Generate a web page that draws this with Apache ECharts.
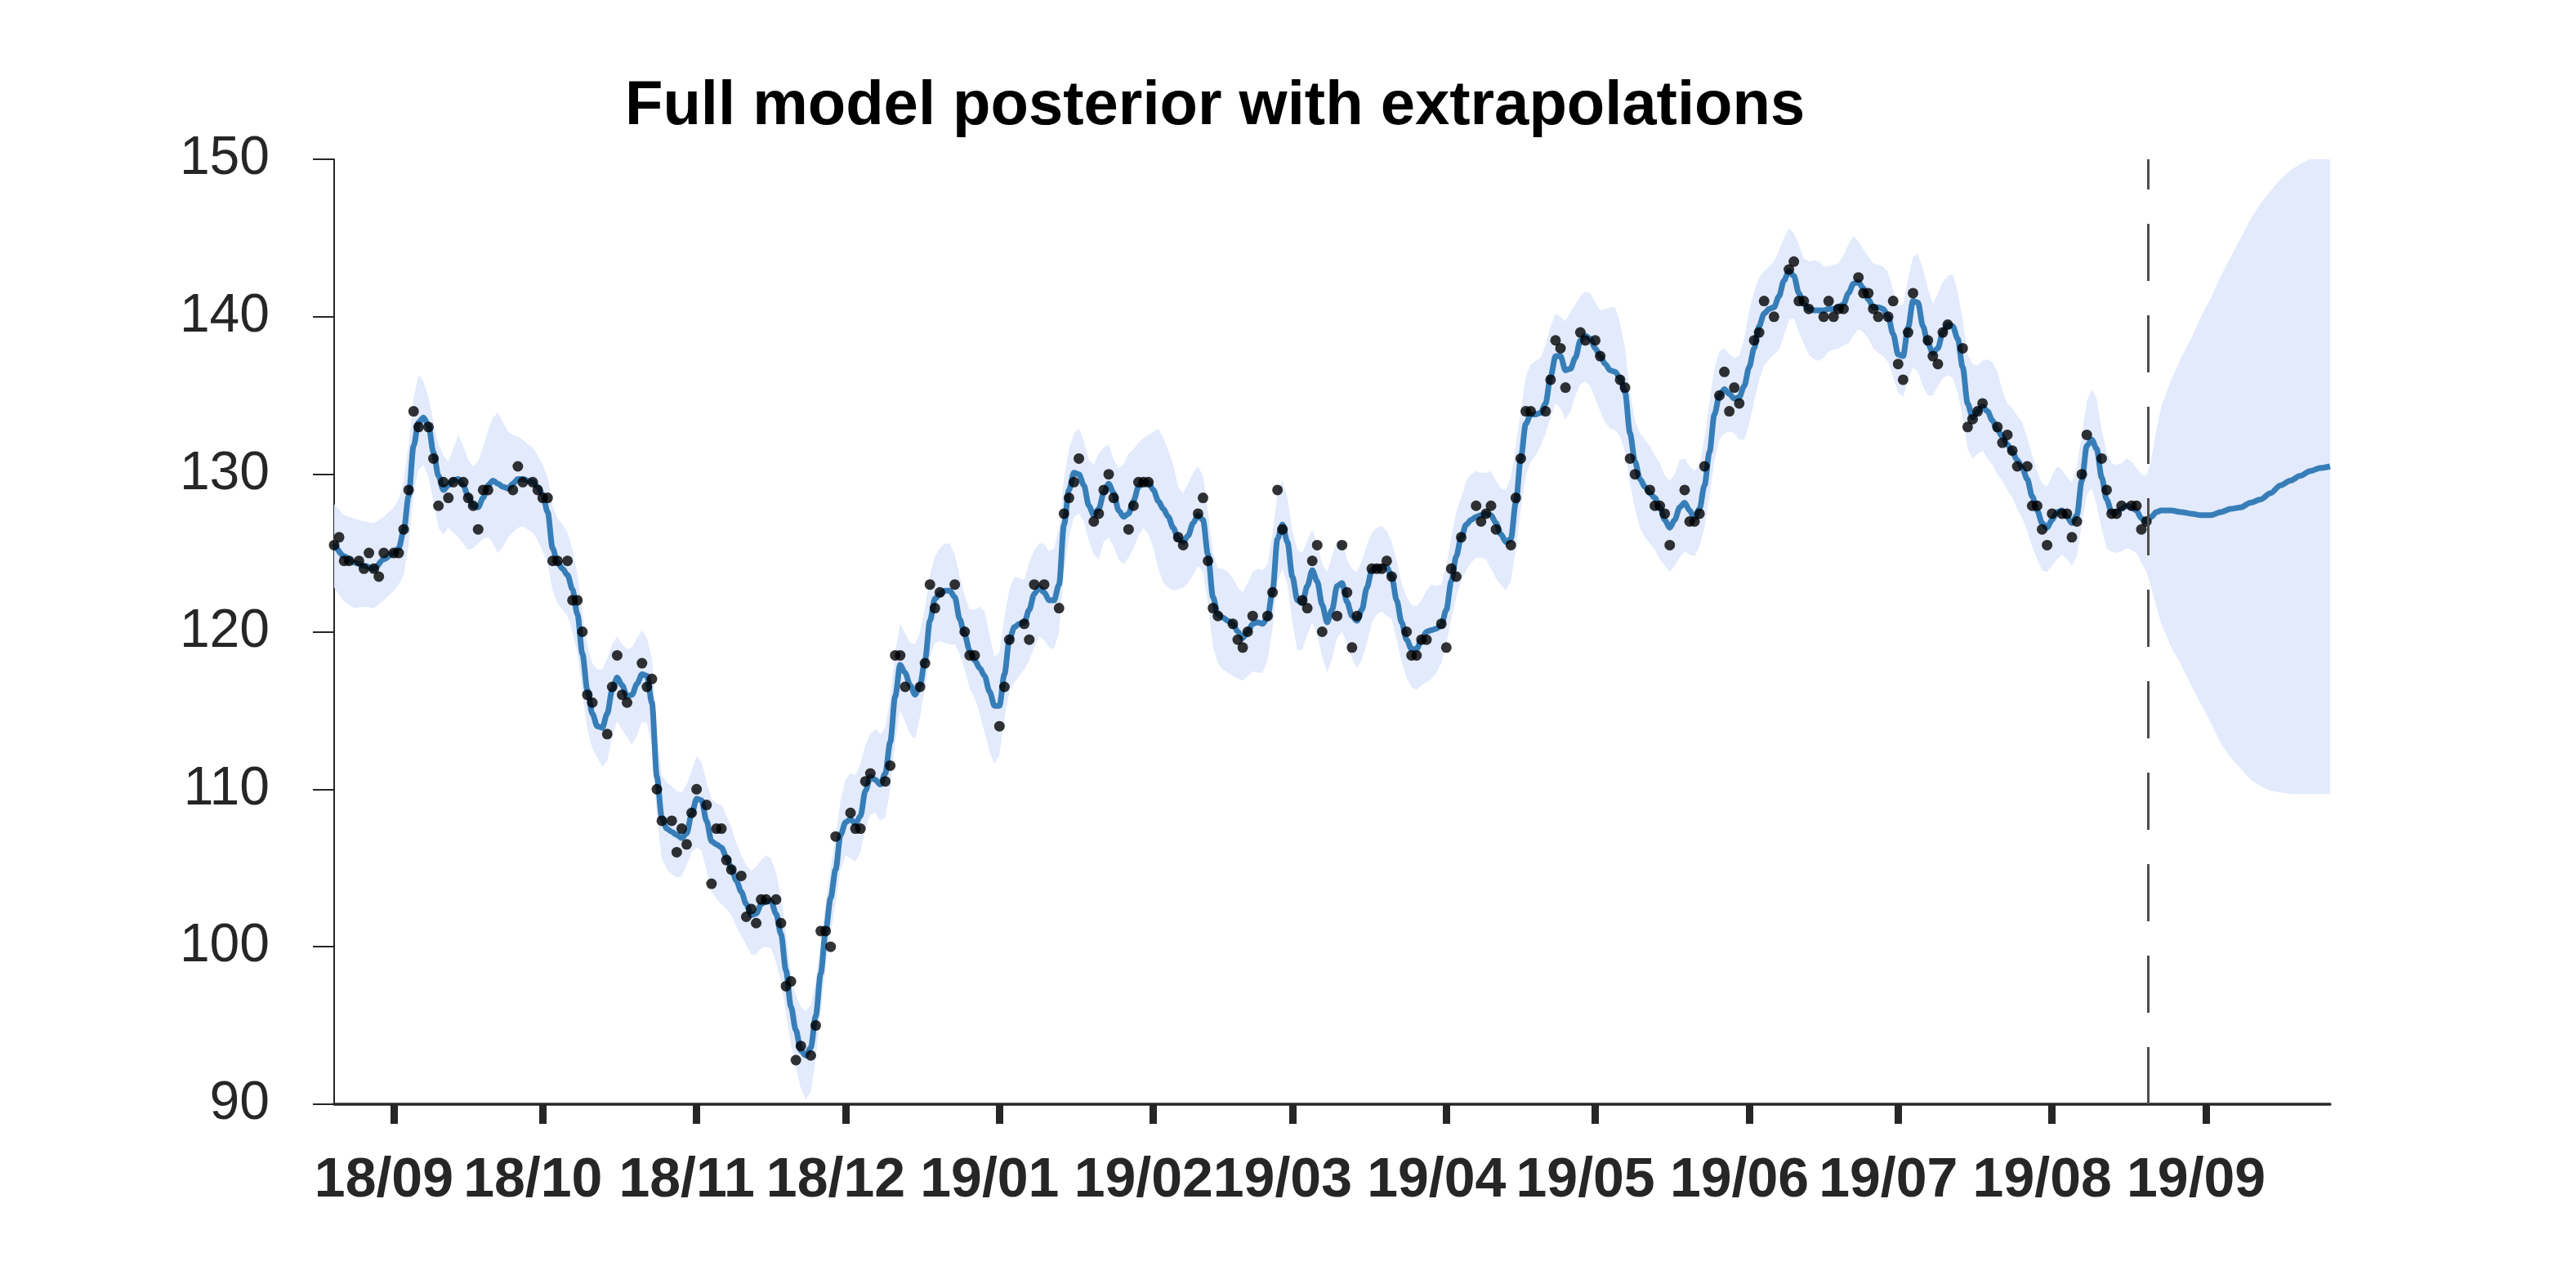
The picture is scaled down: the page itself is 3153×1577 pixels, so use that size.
<!DOCTYPE html>
<html>
<head>
<meta charset="utf-8">
<title>Full model posterior with extrapolations</title>
<script src="https://cdn.jsdelivr.net/npm/echarts@6.0.0/dist/echarts.min.js"></script>
<style>
  html, body { margin: 0; padding: 0; background: #fff; }
  #chart { width: 3153px; height: 1577px; }
</style>
</head>
<body>
<div id="chart"></div>
<script>
// x values are days counted from 2018-08-20
const monthTickDay = [12, 42, 73, 103, 134, 165, 193, 224, 254, 285, 315, 346, 377];
const monthTickLabel = ['18/09', '18/10', '18/11', '18/12', '19/01', '19/02', '19/03',
  '19/04', '19/05', '19/06', '19/07', '19/08', '19/09'];
const dataEndDay = 365.3;

// observations (black dots)
const obsDay = [
  0, 1, 2, 3, 5, 6, 7, 8, 9, 10, 12, 13, 14, 15, 16, 17, 19, 20, 21, 22,
  23, 24, 26, 27, 28, 29, 30, 31, 36, 37, 38, 40, 41, 42, 43, 44, 45, 47, 48, 49,
  50, 51, 52, 55, 56, 57,
  58, 59, 62, 63, 64, 65, 66, 68, 69, 70, 71, 72, 73, 75, 76, 77, 78, 79, 80, 82,
  83, 84, 85, 86, 87, 89, 90, 91, 92, 93, 94, 96, 97, 98, 99, 100, 101, 104, 105, 106,
  107, 108, 111, 112, 113,
  114, 115, 118, 119, 120, 121, 122, 125, 127, 128, 129, 134, 135, 136, 139, 140, 141, 143, 146, 147,
  148, 149, 150, 153, 154, 155, 156, 157, 160, 161, 162, 163, 164, 170,
  171, 174, 175, 176, 177, 178, 181, 182, 183, 184, 185, 188, 189, 190, 191, 195, 196, 197, 198, 199,
  202, 203, 204, 205, 206, 209, 210, 211, 212, 213, 216, 217, 218, 219, 220, 223, 224, 225,
  226, 227, 230, 231, 232, 233, 234, 237, 238, 239, 240, 241, 244, 245, 246, 247, 248, 251, 252, 254,
  255, 259, 260, 261, 262, 265, 266, 267, 268, 269, 272, 273, 274, 275, 276, 279, 280, 281,
  282, 283, 286, 287, 288, 290, 293, 294, 295, 296, 297, 300, 301, 302, 303, 304, 307, 308, 309, 310,
  311, 313, 314, 315, 316, 317, 318, 321, 322, 323, 324, 325, 328, 329, 330, 331, 332, 335, 336, 337,
  338, 339, 341, 342, 343, 344, 345, 346, 348, 349, 350, 351, 352, 353, 356, 357, 358, 359, 360, 362,
  363, 364, 365
];
const obsVal = [
  125.5, 126.0, 124.5, 124.5, 124.5, 124.0, 125.0, 124.0, 123.5, 125.0, 125.0, 125.0, 126.5, 129.0, 134.0, 133.0, 133.0, 131.0, 128.0, 129.5,
  128.5, 129.5, 129.5, 128.5, 128.0, 126.5, 129.0, 129.0, 129.0, 130.5, 129.5, 129.5, 129.0, 128.5, 128.5, 124.5, 124.5, 124.5, 122.0, 122.0,
  120.0, 116.0, 115.5, 113.5, 116.5, 118.5,
  116.0, 115.5, 118.0, 116.5, 117.0, 110.0, 108.0, 108.0, 106.0, 107.5, 106.5, 108.5, 110.0, 109.0, 104.0, 107.5, 107.5, 105.5, 104.9, 104.5,
  101.9, 102.4, 101.5, 103.0, 103.0, 103.0, 101.5, 97.5, 97.8, 92.8, 93.7, 93.1, 95.0, 101.0, 101.0, 100.0, 107.0, 108.5, 107.5, 107.5,
  110.5, 111.0, 110.5, 111.5, 118.5,
  118.5, 116.5, 116.5, 118.0, 123.0, 121.5, 122.5, 123.0, 120.0, 118.5, 118.5, 114.0, 116.5, 119.5, 120.5, 119.5, 123.0, 123.0, 121.5, 127.5,
  128.5, 129.5, 131.0, 127.0, 127.5, 129.0, 130.0, 128.5, 126.5, 128.0, 129.5, 129.5, 129.5, 126.0,
  125.5, 127.5, 128.5, 124.5, 121.5, 121.0, 120.5, 119.5, 119.0, 120.0, 121.0, 121.0, 122.5, 129.0, 126.5, 122.0, 121.5, 124.5, 125.5, 120.0,
  121.0, 125.5, 122.5, 119.0, 121.0, 124.0, 124.0, 124.0, 124.5, 123.5, 120.0, 118.5, 118.5, 119.5, 119.5, 120.5, 119.0, 124.0,
  123.5, 126.0, 128.0, 127.0, 127.5, 128.0, 126.5, 125.5, 128.5, 131.0, 134.0, 134.0, 134.0, 136.0, 138.5, 138.0, 135.5, 139.0, 138.5, 138.5,
  137.5, 136.0, 135.5, 131.0, 130.0, 129.0, 128.0, 128.0, 127.5, 125.5, 129.0, 127.0, 127.0, 127.5, 130.5, 135.0, 136.5, 134.0,
  135.5, 134.5, 138.5, 139.0, 141.0, 140.0, 143.0, 143.5, 141.0, 141.0, 140.5, 140.0, 141.0, 140.0, 140.5, 140.5, 142.5, 141.5, 141.5, 140.5,
  140.0, 140.0, 141.0, 137.0, 136.0, 139.0, 141.5, 138.5, 137.5, 137.0, 139.0, 139.5, 138.0, 133.0, 133.5, 134.0, 134.5, 133.0, 132.0, 132.5,
  131.5, 130.5, 130.5, 128.0, 128.0, 126.5, 125.5, 127.5, 127.5, 127.5, 126.0, 127.0, 130.0, 132.5, 131.0, 129.0, 127.5, 127.5, 128.0, 128.0,
  128.0, 126.5, 127.0
];

// posterior mean and band
const curveDay = [
  0, 2, 4, 6, 8, 10, 12, 13, 14, 15,
  16, 17, 18, 19, 20, 21, 22, 23, 24, 25,
  26, 27, 28, 29, 30, 31, 32, 33, 34, 35,
  36, 37, 38, 39, 40, 41, 42, 43, 44, 45,
  46, 47, 48, 49, 50, 51, 52, 53, 54, 55,
  56, 57, 58, 59, 60, 61, 62, 63, 64, 65,
  66, 67, 68, 69, 70, 71, 72, 73, 74, 75,
  76, 77, 78, 79, 80, 81, 82, 83, 84, 85,
  86, 87, 88, 89, 90, 91, 92, 93, 94, 95,
  96, 97, 98, 99, 100, 101, 102, 103, 104, 105,
  106, 107, 108, 109, 110, 111, 112, 113, 114, 115,
  116, 117, 118, 119, 120, 121, 122, 123, 124, 125,
  126, 127, 128, 129, 130, 131, 132, 133, 134, 135,
  136, 137, 138, 139, 140, 141, 142, 143, 144, 145,
  146, 147, 148, 149, 150, 151, 152, 153, 154, 155,
  156, 157, 158, 159, 160, 161, 162, 163, 164, 165,
  166, 167, 168, 169, 170, 171, 172, 173, 174, 175,
  176, 177, 178, 179, 180, 181, 182, 183, 184, 185,
  186, 187, 188, 189, 190, 191, 192, 193, 194, 195,
  196, 197, 198, 199, 200, 201, 202, 203, 204, 205,
  206, 207, 208, 209, 210, 211, 212, 213, 214, 215,
  216, 217, 218, 219, 220, 221, 222, 223, 224, 225,
  226, 227, 228, 229, 230, 231, 232, 233, 234, 235,
  236, 237, 238, 239, 240, 241, 242, 243, 244, 245,
  246, 247, 248, 249, 250, 251, 252, 253, 254, 255,
  256, 257, 258, 259, 260, 261, 262, 263, 264, 265,
  266, 267, 268, 269, 270, 271, 272, 273, 274, 275,
  276, 277, 278, 279, 280, 281, 282, 283, 284, 285,
  286, 287, 288, 289, 290, 291, 292, 293, 294, 295,
  296, 297, 298, 299, 300, 301, 302, 303, 304, 305,
  306, 307, 308, 309, 310, 311, 312, 313, 314, 315,
  316, 317, 318, 319, 320, 321, 322, 323, 324, 325,
  326, 327, 328, 329, 330, 331, 332, 333, 334, 335,
  336, 337, 338, 339, 340, 341, 342, 343, 344, 345,
  346, 347, 348, 349, 350, 351, 352, 353, 354, 355,
  356, 357, 358, 359, 360, 361, 362, 363, 364, 365,
  366, 367, 368, 370, 372, 374, 376, 378, 380, 382,
  384, 386, 388, 390, 392, 394, 396, 398, 400, 402
];
const meanVal = [
  125.6, 124.8, 124.4, 124.2, 124.0, 124.6, 125.0, 125.3, 126.4, 128.6,
  131.8, 133.3, 133.6, 133.1, 131.4, 129.9, 129.0, 129.3, 129.6, 129.7,
  129.3, 128.6, 128.0, 127.9, 128.5, 129.3, 129.6, 129.4, 129.2, 129.1,
  129.4, 129.7, 129.7, 129.6, 129.5, 129.2, 128.7, 127.6, 125.3, 124.4,
  124.0, 123.6, 122.7, 121.1, 118.6, 116.3, 114.8, 114.0, 113.9, 114.8,
  116.3, 117.1, 116.6, 115.9, 116.0, 116.7, 117.3, 117.2, 115.5, 110.8,
  108.2, 107.5, 107.3, 107.1, 106.9, 107.2, 108.4, 109.4, 109.3, 108.0,
  106.7, 106.5, 106.3, 105.7, 105.0, 104.2, 103.5, 102.7, 102.0, 102.1,
  102.7, 102.9, 102.9, 102.1, 100.8, 98.5, 96.2, 94.7, 93.4, 93.1,
  93.6, 95.6, 98.3, 101.0, 103.1, 104.9, 107.1, 107.9, 108.1, 107.8,
  108.3, 109.9, 110.8, 110.6, 110.3, 111.0, 113.0, 115.9, 117.9, 117.4,
  116.6, 116.0, 116.6, 118.2, 120.7, 122.1, 122.4, 122.6, 122.6, 122.2,
  120.8, 119.8, 118.8, 118.2, 117.7, 117.2, 116.2, 115.3, 115.3, 117.3,
  119.5, 120.3, 120.5, 120.6, 121.4, 122.4, 122.8, 122.5, 122.0, 122.0,
  123.0, 126.8, 129.0, 130.1, 130.0, 129.3, 128.0, 127.4, 127.8, 128.8,
  129.4, 128.8, 127.7, 127.3, 127.5, 128.3, 129.2, 129.5, 129.5, 129.0,
  128.3, 127.8, 127.3, 126.6, 125.9, 125.7, 126.1, 126.9, 127.4, 127.1,
  124.9, 122.2, 121.1, 120.9, 120.7, 120.5, 120.0, 119.6, 120.0, 120.5,
  120.6, 120.5, 120.9, 122.6, 125.9, 126.8, 125.7, 123.5, 122.0, 121.8,
  122.9, 123.9, 123.2, 121.7, 120.6, 121.4, 122.9, 123.1, 121.9, 121.0,
  120.7, 121.4, 122.8, 123.9, 124.1, 124.1, 124.1, 123.5, 122.0, 120.6,
  119.5, 118.9, 118.9, 119.5, 120.0, 120.1, 120.2, 120.4, 121.4, 123.2,
  124.8, 126.0, 126.8, 127.1, 127.3, 127.4, 127.5, 127.4, 126.9, 126.2,
  125.7, 125.9, 128.2, 131.0, 133.2, 133.8, 133.8, 133.9, 134.5, 136.2,
  137.5, 137.5, 136.6, 136.7, 137.4, 138.5, 138.8, 138.6, 138.0, 137.5,
  137.0, 136.6, 136.5, 136.1, 135.2, 132.6, 130.8, 129.7, 129.2, 128.8,
  128.5, 127.9, 127.1, 126.6, 127.1, 127.9, 128.2, 127.7, 127.2, 127.8,
  129.3, 131.4, 133.8, 135.0, 135.4, 135.1, 134.8, 134.9, 135.6, 136.8,
  138.0, 139.4, 140.2, 140.5, 140.6, 141.3, 142.3, 142.9, 142.6, 141.5,
  140.8, 140.5, 140.4, 140.4, 140.4, 140.5, 140.5, 140.6, 140.8, 141.5,
  142.1, 142.2, 141.8, 141.1, 140.6, 140.6, 140.5, 140.0, 138.9, 137.6,
  137.5, 139.3, 141.0, 140.9, 139.4, 138.3, 137.7, 138.0, 139.0, 139.5,
  139.4, 138.6, 136.8, 134.5, 133.6, 134.0, 134.3, 134.0, 133.4, 132.8,
  132.4, 131.9, 131.4, 130.9, 130.4, 129.7, 128.6, 127.7, 126.9, 126.6,
  127.1, 127.6, 127.7, 127.3, 126.9, 127.4, 129.6, 131.8, 132.2, 131.6,
  129.8, 128.4, 127.6, 127.6, 127.8, 128.0, 127.9, 127.7, 127.2, 127.0,
  127.3, 127.6, 127.7, 127.7, 127.6, 127.5, 127.4, 127.4, 127.6, 127.8,
  127.9, 128.2, 128.4, 128.8, 129.3, 129.6, 129.9, 130.2, 130.4, 130.5
];
const bandHigh = [
  128.1, 127.4, 127.2, 127.0, 126.9, 127.3, 127.9, 128.4, 129.6, 131.9,
  134.8, 136.3, 135.9, 134.9, 133.3, 131.9, 131.2, 130.8, 131.6, 132.5,
  131.8, 130.9, 130.5, 130.8, 131.7, 132.8, 133.6, 133.9, 133.3, 132.7,
  132.5, 132.4, 132.2, 131.9, 131.7, 131.2, 130.6, 129.8, 128.0, 127.2,
  126.8, 126.3, 125.2, 123.6, 121.2, 119.2, 118.0, 117.6, 117.6, 118.3,
  119.2, 119.7, 119.2, 118.9, 119.0, 119.6, 120.1, 119.6, 118.3, 113.6,
  110.9, 110.4, 110.2, 109.9, 109.8, 110.3, 111.2, 112.1, 111.7, 110.5,
  109.4, 109.1, 109.0, 108.3, 107.6, 106.6, 105.8, 105.2, 104.8, 105.1,
  105.5, 105.8, 105.6, 104.7, 103.2, 100.8, 98.2, 96.9, 96.2, 95.9,
  96.3, 97.8, 100.2, 102.8, 105.0, 106.9, 109.3, 110.6, 111.0, 110.9,
  111.6, 112.8, 113.5, 113.8, 113.5, 113.9, 115.8, 118.7, 120.5, 119.9,
  119.3, 119.2, 120.0, 121.5, 123.6, 124.8, 125.3, 125.6, 125.6, 124.9,
  123.5, 122.3, 121.4, 121.4, 121.6, 121.3, 119.8, 118.4, 118.7, 120.9,
  122.7, 123.5, 123.4, 123.3, 124.4, 125.2, 125.6, 125.6, 125.1, 125.3,
  126.6, 129.7, 131.6, 132.6, 132.9, 132.1, 130.9, 130.6, 131.3, 131.7,
  131.9, 130.9, 130.4, 130.6, 131.3, 131.6, 132.0, 132.3, 132.5, 132.7,
  132.9, 132.3, 131.5, 130.6, 129.2, 128.8, 129.4, 130.1, 130.5, 129.9,
  127.6, 125.0, 124.0, 124.0, 123.8, 123.4, 122.8, 122.5, 123.1, 123.8,
  124.0, 123.9, 124.3, 126.2, 128.8, 129.6, 128.5, 126.4, 125.2, 125.0,
  125.8, 126.5, 125.6, 124.3, 123.8, 124.8, 125.8, 125.8, 124.6, 124.0,
  123.8, 124.5, 125.5, 126.3, 126.6, 126.7, 126.4, 125.7, 124.5, 123.1,
  122.2, 121.7, 121.6, 122.0, 122.6, 123.0, 122.9, 123.0, 124.2, 126.0,
  127.6, 128.5, 129.6, 130.0, 130.2, 130.1, 130.1, 130.2, 129.6, 129.1,
  129.0, 129.8, 131.8, 134.0, 136.2, 137.0, 137.2, 137.4, 138.2, 139.4,
  140.2, 140.0, 139.7, 140.3, 140.8, 141.3, 141.6, 141.5, 140.9, 140.4,
  140.5, 140.6, 140.6, 139.6, 138.0, 135.2, 133.4, 132.6, 132.2, 131.8,
  131.2, 130.7, 129.9, 129.6, 130.0, 130.9, 131.0, 130.5, 130.2, 130.6,
  132.3, 134.6, 136.7, 137.8, 138.0, 137.6, 137.4, 137.5, 138.6, 140.4,
  141.6, 142.5, 142.9, 143.2, 143.5, 144.2, 145.0, 145.6, 145.3, 144.6,
  143.7, 143.5, 143.6, 143.5, 143.2, 143.2, 143.3, 143.4, 143.9, 144.6,
  145.1, 144.8, 144.3, 143.8, 143.4, 143.3, 143.2, 142.8, 141.7, 140.7,
  140.8, 142.4, 143.8, 144.0, 143.0, 141.8, 140.8, 141.5, 142.2, 142.6,
  142.7, 141.6, 139.8, 137.6, 137.0, 136.9, 137.2, 137.3, 137.1, 136.5,
  135.3, 134.5, 134.2, 133.7, 133.3, 132.3, 131.2, 130.2, 129.4, 129.2,
  129.9, 130.5, 130.3, 129.8, 129.5, 130.4, 132.6, 134.6, 135.4, 134.8,
  132.8, 131.4, 130.7, 130.6, 130.7, 131.0, 130.8, 130.4, 130.0, 129.9,
  131.0, 132.8, 134.3, 136.0, 137.4, 138.6, 140.0, 141.2, 142.6, 143.8,
  145.0, 146.2, 147.2, 148.0, 148.7, 149.3, 149.7, 150.0, 150.0, 150.0
];
const bandLow = [
  122.8, 121.9, 121.5, 121.6, 121.5, 122.0, 122.6, 123.0, 123.6, 125.5,
  128.8, 130.3, 130.6, 129.8, 128.3, 126.6, 126.2, 126.6, 126.3, 126.0,
  125.6, 125.2, 125.3, 125.6, 125.9, 126.0, 125.6, 125.0, 125.4, 126.0,
  126.3, 126.6, 126.7, 126.5, 126.3, 125.8, 125.1, 124.3, 122.6, 121.8,
  121.4, 121.0, 120.0, 118.6, 116.1, 113.8, 112.6, 112.0, 111.4, 111.8,
  113.4, 114.3, 113.8, 113.3, 112.8, 113.4, 114.3, 114.2, 112.7, 108.2,
  105.6, 104.9, 104.6, 104.4, 104.5, 105.2, 106.0, 106.3, 106.1, 104.8,
  103.5, 103.0, 102.7, 102.4, 102.0, 101.3, 100.7, 100.1, 99.5, 99.5,
  99.9, 100.0, 99.9, 99.0, 97.8, 95.8, 93.8, 92.3, 91.0, 90.3,
  90.8, 92.9, 95.9, 98.7, 100.9, 102.8, 104.9, 105.8, 105.6, 105.4,
  106.0, 107.5, 108.4, 108.5, 108.0, 108.2, 110.0, 113.0, 115.0, 114.3,
  113.5, 113.2, 114.6, 116.5, 118.4, 119.3, 119.4, 119.3, 119.2, 119.2,
  118.6, 117.6, 116.4, 115.8, 114.8, 113.6, 112.4, 111.6, 112.2, 114.5,
  116.2, 116.8, 117.2, 117.6, 118.2, 119.0, 119.7, 119.5, 119.0, 118.9,
  120.0, 123.8, 126.0, 127.3, 127.5, 127.0, 125.8, 124.9, 124.6, 125.7,
  126.0, 125.4, 124.6, 124.3, 124.7, 125.3, 126.1, 126.6, 126.2, 125.3,
  124.0, 123.1, 122.8, 122.6, 122.7, 122.8, 123.1, 123.6, 124.2, 123.8,
  121.8, 119.0, 118.0, 117.6, 117.4, 117.2, 117.0, 116.9, 117.2, 117.5,
  117.4, 117.4, 118.2, 120.2, 123.2, 124.0, 123.0, 120.6, 118.8, 118.9,
  119.8, 120.6, 119.8, 118.4, 117.4, 118.3, 119.6, 120.0, 119.3, 118.3,
  117.7, 118.2, 119.3, 120.6, 121.1, 121.3, 121.0, 120.8, 119.5, 118.1,
  117.1, 116.5, 116.3, 116.6, 116.8, 117.0, 117.4, 118.0, 119.2, 120.8,
  122.2, 123.2, 123.9, 124.4, 124.7, 124.7, 124.6, 124.0, 123.4, 123.0,
  122.6, 123.2, 125.2, 127.8, 129.9, 130.8, 131.2, 131.8, 132.6, 133.6,
  134.5, 134.2, 133.5, 134.0, 135.0, 135.7, 135.9, 135.6, 134.8, 134.0,
  133.3, 132.9, 132.8, 132.4, 131.4, 129.4, 127.8, 126.6, 126.0, 125.6,
  125.2, 124.6, 124.2, 123.8, 124.2, 124.7, 125.1, 124.9, 124.8, 125.4,
  126.6, 128.6, 130.9, 132.2, 132.6, 132.7, 132.6, 132.2, 132.2, 133.2,
  134.6, 136.0, 136.9, 137.3, 137.6, 137.9, 138.8, 139.8, 139.9, 139.0,
  138.3, 137.6, 137.3, 137.2, 137.4, 137.8, 137.9, 138.0, 138.2, 138.3,
  138.8, 139.2, 139.0, 138.6, 138.0, 137.7, 137.5, 137.1, 136.2, 135.2,
  134.9, 136.0, 136.8, 136.5, 135.6, 135.0, 135.0, 135.6, 136.1, 136.3,
  136.1, 135.2, 133.6, 131.6, 131.0, 131.3, 131.5, 131.0, 130.6, 130.0,
  129.6, 129.0, 128.5, 127.8, 127.2, 126.4, 125.4, 124.6, 123.9, 123.8,
  124.2, 124.6, 124.9, 124.6, 124.2, 124.8, 126.8, 128.7, 129.1, 128.0,
  126.5, 125.3, 125.1, 125.0, 125.1, 125.3, 125.2, 125.0, 124.4, 123.8,
  122.8, 121.6, 120.5, 119.0, 117.9, 116.6, 115.4, 114.2, 112.9, 112.0,
  111.3, 110.6, 110.2, 109.9, 109.8, 109.7, 109.7, 109.7, 109.7, 109.7
];

const axisColor = '#262626';
const chart = echarts.init(document.getElementById('chart'));

// shaded band: one polygon going along the upper edge and back along the lower edge
function renderBand(params, api) {
  const pts = [];
  for (let i = 0; i < curveDay.length; i++) {
    pts.push(api.coord([curveDay[i], bandHigh[i]]));
  }
  for (let i = curveDay.length - 1; i >= 0; i--) {
    pts.push(api.coord([curveDay[i], bandLow[i]]));
  }
  return {
    type: 'polygon',
    shape: { points: pts },
    style: { fill: '#e2eafc' },
    silent: true
  };
}

const option = {
  animation: false,
  backgroundColor: '#ffffff',
  textStyle: { fontFamily: 'Liberation Sans, Arial, sans-serif' },
  title: {
    text: 'Full model posterior with extrapolations',
    left: 760,
    top: 88,
    textStyle: { fontSize: 76, fontWeight: 'bold', color: '#000000', fontFamily: 'Liberation Sans' }
  },
  grid: { left: 409, right: 301, top: 195, bottom: 225 },
  xAxis: {
    type: 'value',
    min: 0,
    max: 402,
    axisLine: { onZero: false, lineStyle: { color: axisColor, width: 3.5 } },
    axisTick: {
      show: true,
      customValues: monthTickDay,
      length: 24,
      lineStyle: { color: axisColor, width: 9 }
    },
    axisLabel: {
      customValues: monthTickDay,
      formatter: (v) => monthTickLabel[monthTickDay.indexOf(v)],
      fontSize: 68,
      fontWeight: 'bold',
      color: axisColor,
      margin: 60,
      padding: [0, 24, 0, 0]
    },
    splitLine: { show: false }
  },
  yAxis: {
    type: 'value',
    min: 90,
    max: 150,
    interval: 10,
    axisLine: { show: true, onZero: false, lineStyle: { color: axisColor, width: 2 } },
    axisTick: { show: true, length: 26, lineStyle: { color: axisColor, width: 2 } },
    axisLabel: { fontSize: 66, color: axisColor, margin: 79 },
    splitLine: { show: false }
  },
  series: [
    {
      type: 'custom',
      renderItem: renderBand,
      data: [[0, 120]],
      encode: { x: 0, y: 1 },
      silent: true,
      z: 1
    },
    {
      type: 'line',
      data: curveDay.map((d, i) => [d, meanVal[i]]),
      symbol: 'none',
      smooth: 0.3,
      smoothMonotone: 'x',
      lineStyle: { color: '#377eb8', width: 7 },
      z: 2
    },
    {
      type: 'scatter',
      data: obsDay.map((d, i) => [d, obsVal[i]]),
      symbol: 'circle',
      symbolSize: 13,
      itemStyle: { color: '#000000' },
      z: 3,
      markLine: {
        silent: true,
        symbol: ['none', 'none'],
        label: { show: false },
        lineStyle: { color: '#4d4d4d', width: 3, type: [70, 42] },
        data: [{ xAxis: dataEndDay }]
      }
    }
  ]
};

chart.setOption(option);
</script>
</body>
</html>
